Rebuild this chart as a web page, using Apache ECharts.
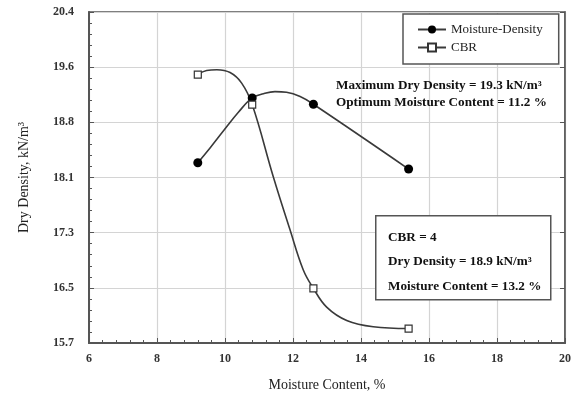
<!DOCTYPE html>
<html>
<head>
<meta charset="utf-8">
<script src="https://cdn.jsdelivr.net/npm/echarts@6/dist/echarts.min.js"></script>
<style>
html, body { margin: 0; padding: 0; background: #fff; }
#chart { width: 576px; height: 398px; }
</style>
</head>
<body>
<div id="chart"></div>
<script>
// measured test points: moisture content (%) and dry density (kN/m3)
var moisture = [9.2, 10.8, 12.6, 15.4];
var densityMD = [18.26, 19.18, 19.09, 18.17];
var densityCBR = [19.51, 19.085, 16.475, 15.905];

// fitted curves as drawn in the figure
var curveMDx = [9.2, 9.56, 9.95, 10.4, 10.8, 11.13, 11.47, 11.81, 12.21, 12.6, 15.4];
var curveMDy = [18.26, 18.47, 18.71, 18.98, 19.18, 19.24, 19.27, 19.26, 19.20, 19.09, 18.17];
var curveCBRx = [9.2, 9.46, 9.76, 10.15, 10.49, 10.8, 11.42, 11.91, 12.30, 12.6, 12.99, 13.58, 14.36, 15.4];
var curveCBRy = [19.51, 19.57, 19.58, 19.54, 19.39, 19.085, 18.06, 17.31, 16.74, 16.475, 16.21, 16.02, 15.93, 15.905];

// y tick labels as printed
var yTicks = ['15.7', '16.5', '17.3', '18.1', '18.8', '19.6', '20.4'];
var yMin = 15.7, yMax = 20.4;

var serif = '"Liberation Serif", "DejaVu Serif", serif';
var lineColor = '#3a3a3a';

function pairs(xs, ys) {
    var out = [];
    for (var i = 0; i < xs.length; i++) {
        out.push([xs[i], ys[i]]);
    }
    return out;
}

var myChart = echarts.init(document.getElementById('chart'));

var option = {
    animation: false,
    backgroundColor: '#fff',
    grid: {
        left: 89, right: 11, top: 12, bottom: 55,
        show: true,
        borderColor: '#555',
        borderWidth: 1.5
    },
    legend: {
        left: 403, top: 14,
        orient: 'vertical',
        itemGap: 5,
        itemWidth: 28,
        itemHeight: 10,
        padding: [9, 16, 10, 14],
        borderColor: '#555',
        borderWidth: 1.5,
        backgroundColor: '#fff',
        textStyle: { fontFamily: serif, fontSize: 13, color: '#222' },
        data: ['Moisture-Density', 'CBR']
    },
    xAxis: [{
        type: 'value',
        min: 6, max: 20, interval: 2,
        name: 'Moisture Content, %',
        nameLocation: 'middle',
        nameGap: 35,
        nameTextStyle: { fontFamily: serif, fontSize: 14, color: '#222' },
        axisLine: { lineStyle: { color: '#555', width: 2 } },
        axisTick: { inside: true, length: 5, lineStyle: { color: '#555' } },
        minorTick: { show: true, splitNumber: 5, length: 3, lineStyle: { color: '#555' } },
        axisLabel: { fontFamily: serif, fontSize: 12, fontWeight: 'bold', color: '#333', margin: 10 },
        splitLine: { show: true, lineStyle: { color: '#d4d4d4', width: 1.2 } }
    }],
    yAxis: [{
        type: 'value',
        min: yMin, max: yMax, interval: (yMax - yMin) / 6,
        name: 'Dry Density, kN/m³',
        nameLocation: 'middle',
        nameRotate: 90,
        nameGap: 58,
        nameTextStyle: { fontFamily: serif, fontSize: 14, color: '#222' },
        axisLine: { show: true, lineStyle: { color: '#555', width: 2 } },
        axisTick: { show: true, inside: true, length: 5, lineStyle: { color: '#555' } },
        minorTick: { show: true, splitNumber: 5, length: 3, lineStyle: { color: '#555' } },
        axisLabel: {
            fontFamily: serif, fontSize: 12, fontWeight: 'bold', color: '#333', margin: 15,
            formatter: function (v, i) { return yTicks[i]; }
        },
        splitLine: { show: true, lineStyle: { color: '#d4d4d4', width: 1.2 } }
    }, {
        type: 'value',
        position: 'right',
        min: yMin, max: yMax, interval: (yMax - yMin) / 6,
        axisLine: { show: true, lineStyle: { color: '#555', width: 1.5 } },
        axisTick: { show: true, inside: true, length: 5, lineStyle: { color: '#555' } },
        axisLabel: { show: false },
        splitLine: { show: false }
    }],
    series: [{
        name: 'Moisture-Density',
        type: 'line',
        smooth: 0.4,
        symbol: 'circle',
        symbolSize: 9,
        showSymbol: false,
        itemStyle: { color: '#000', borderColor: '#000' },
        lineStyle: { color: lineColor, width: 1.6 },
        data: pairs(curveMDx, curveMDy)
    }, {
        name: 'CBR',
        type: 'line',
        smooth: 0.4,
        symbol: 'rect',
        symbolSize: 7,
        showSymbol: false,
        itemStyle: { color: '#fff', borderColor: '#333', borderWidth: 1.2 },
        lineStyle: { color: lineColor, width: 1.6 },
        data: pairs(curveCBRx, curveCBRy)
    }, {
        name: 'Moisture-Density',
        type: 'scatter',
        symbol: 'circle',
        symbolSize: 9,
        z: 5,
        itemStyle: { color: '#000', opacity: 1 },
        data: pairs(moisture, densityMD)
    }, {
        name: 'CBR',
        type: 'scatter',
        symbol: 'rect',
        symbolSize: 7,
        z: 5,
        itemStyle: { color: '#fff', borderColor: '#333', borderWidth: 1.2, opacity: 1 },
        data: pairs(moisture, densityCBR)
    }],
    graphic: [{
        type: 'text',
        left: 336, top: 77,
        z: 100,
        style: {
            text: 'Maximum Dry Density = 19.3 kN/m³\nOptimum Moisture Content = 11.2 %',
            font: 'bold 13.2px ' + serif,
            fill: '#111',
            lineHeight: 17
        }
    }, {
        type: 'rect',
        left: 375, top: 215,
        z: 100,
        shape: { width: 175, height: 84 },
        style: { fill: '#fff', stroke: '#555', lineWidth: 1.5 }
    }, {
        type: 'text',
        left: 388, top: 225,
        z: 101,
        style: {
            text: 'CBR = 4\nDry Density = 18.9 kN/m³\nMoisture Content = 13.2 %',
            font: 'bold 13.2px ' + serif,
            fill: '#111',
            lineHeight: 24.5
        }
    }]
};

myChart.setOption(option);
</script>
</body>
</html>
